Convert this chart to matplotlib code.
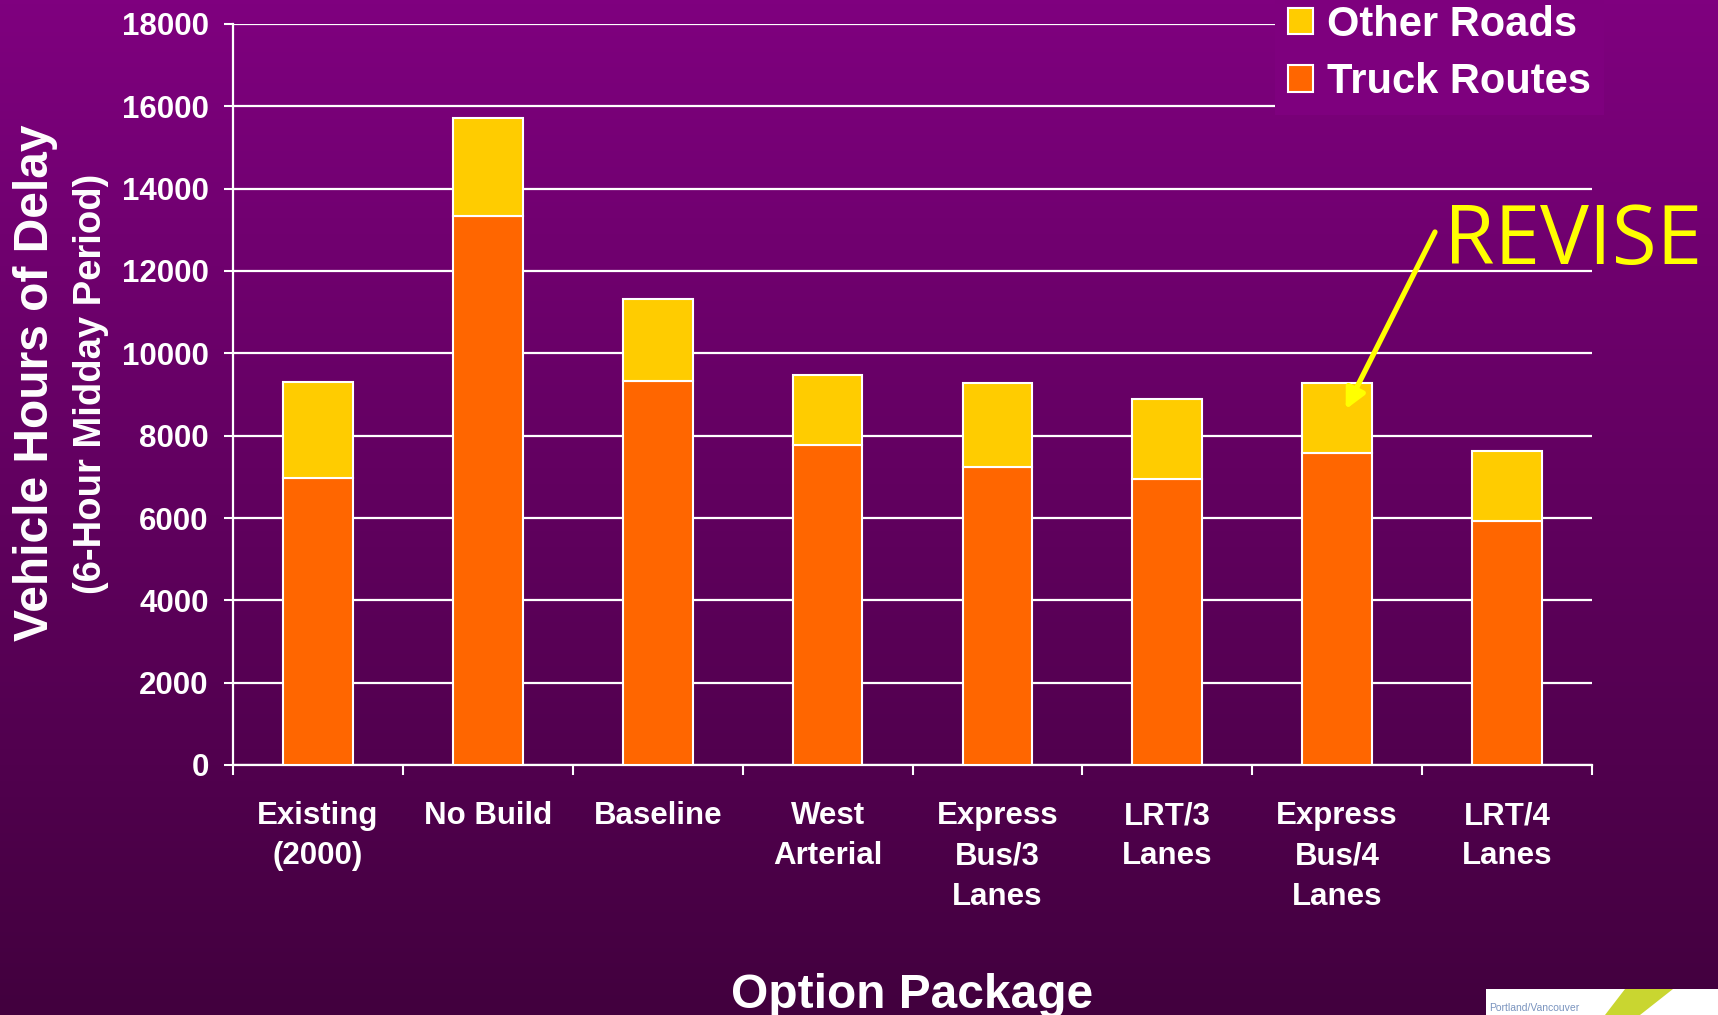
import numpy as np
import matplotlib
matplotlib.use("Agg")
import matplotlib.pyplot as plt
from matplotlib.patches import Patch, Rectangle, Polygon

categories = ["Existing\n(2000)", "No Build", "Baseline", "West\nArterial",
              "Express\nBus/3\nLanes", "LRT/3\nLanes", "Express\nBus/4\nLanes", "LRT/4\nLanes"]
truck_routes = [6980, 13330, 9330, 7770, 7240, 6940, 7590, 5920]
other_roads = [2320, 2380, 1990, 1700, 2040, 1950, 1690, 1710]
y_ticks = [0, 2000, 4000, 6000, 8000, 10000, 12000, 14000, 16000, 18000]

W, H = 1718, 1015
fig = plt.figure(figsize=(W / 100, H / 100), dpi=100)
base = "Liberation Sans"

# background gradient
bg = fig.add_axes([0, 0, 1, 1], zorder=-10)
top = np.array([127, 0, 127]) / 255
bot = np.array([66, 0, 62]) / 255
t = np.linspace(0, 1, 256)[:, None]
grad = top[None, :] * (1 - t) + bot[None, :] * t
bg.imshow(grad[:, None, :], aspect="auto", extent=[0, 1, 0, 1])
bg.axis("off")

ax = fig.add_axes([233 / W, 1 - 765 / H, (1592 - 233) / W, (765 - 24) / H])
ax.set_facecolor("none")
x = np.arange(len(categories))
bw = 0.41
ax.bar(x, truck_routes, width=bw, color="#FF6600", edgecolor="white", linewidth=1.5, zorder=3)
ax.bar(x, other_roads, bottom=truck_routes, width=bw, color="#FFCC00", edgecolor="white",
       linewidth=1.5, zorder=3)

ax.set_xlim(-0.5, len(categories) - 0.5)
ax.set_ylim(0, 18000)
ax.set_yticks(y_ticks)
ax.set_yticklabels([str(v) for v in y_ticks], fontsize=22.5, fontweight="bold", color="white",
                   family=base)
ax.yaxis.grid(True, color="white", linewidth=1.6, zorder=0)
ax.set_axisbelow(True)
ax.tick_params(axis="y", length=6.5, width=1.5, color="white", pad=11)

ax.set_xticks(x)
ax.set_xticklabels(categories, fontsize=22.5, fontweight="bold", color="white", family=base,
                   linespacing=1.45)
ax.set_xticks(np.arange(-0.5, len(categories) + 0.5, 1), minor=True)
ax.tick_params(axis="x", which="major", length=0, pad=26)
ax.tick_params(axis="x", which="minor", length=7, width=1.5, color="white", direction="out")
for lab in ax.get_xticklabels():
    lab.set_verticalalignment("top")

for s in ["top", "right"]:
    ax.spines[s].set_visible(False)
for s in ["left", "bottom"]:
    ax.spines[s].set_color("white")
    ax.spines[s].set_linewidth(1.6)

# axis titles
fig.text(36 / W, 1 - 383 / H, "Vehicle Hours of Delay", rotation=90, ha="center", va="center",
         fontsize=34.5, fontweight="bold", color="white", family=base)
fig.text(91 / W, 1 - 384 / H, "(6-Hour Midday Period)", rotation=90, ha="center", va="center",
         fontsize=27.5, fontweight="bold", color="white", family=base)
fig.text(912 / W, 1 - 995 / H, "Option Package", ha="center", va="center",
         fontsize=34.5, fontweight="bold", color="white", family=base)

# legend
handles = [Patch(facecolor="#FFCC00", edgecolor="white", linewidth=1.5, label="Other Roads"),
           Patch(facecolor="#FF6600", edgecolor="white", linewidth=1.5, label="Truck Routes")]
leg = fig.legend(handles=handles, loc="upper left", bbox_to_anchor=(1275 / W, 1 + 8 / H),
                 frameon=True, fancybox=False, facecolor="#7e007e", edgecolor="none",
                 framealpha=1, prop={"family": base, "weight": "bold", "size": 30},
                 handlelength=0.6, handleheight=0.6, handletextpad=0.33,
                 labelspacing=0.42, borderpad=0.31, borderaxespad=0)
for txt in leg.get_texts():
    txt.set_color("white")

# REVISE annotation
idx = 6
fig.text(1573 / W, 1 - 243 / H, "REVISE", ha="center", va="center", fontsize=59,
         color="#FFFF00", family="Open Sans")
ax.annotate("", xy=(x[idx] + 0.05, truck_routes[idx] + 0.62 * other_roads[idx]),
            xytext=(1435 / W, 1 - 232 / H), textcoords="figure fraction",
            arrowprops=dict(arrowstyle="-|>", color="#FFFF00", lw=3.8, mutation_scale=30,
                            shrinkA=0, shrinkB=0),
            annotation_clip=False, zorder=6)

# logo fragment bottom right
fig.patches.append(Rectangle((1486 / W, 0), (W - 1486) / W, (H - 989) / H,
                             transform=fig.transFigure, facecolor="white", edgecolor="none"))
fig.patches.append(Polygon([(1625 / W, 1 - 989 / H), (1673 / W, 1 - 989 / H),
                            (1640 / W, 0), (1605 / W, 0)], closed=True,
                           transform=fig.transFigure, facecolor="#c9d630", edgecolor="none"))
fig.text(1489 / W, 4 / H, "Portland/Vancouver", fontsize=7.5, color="#7a94bf",
         ha="left", va="baseline", family=base)

fig.savefig("out.png", dpi=100)
